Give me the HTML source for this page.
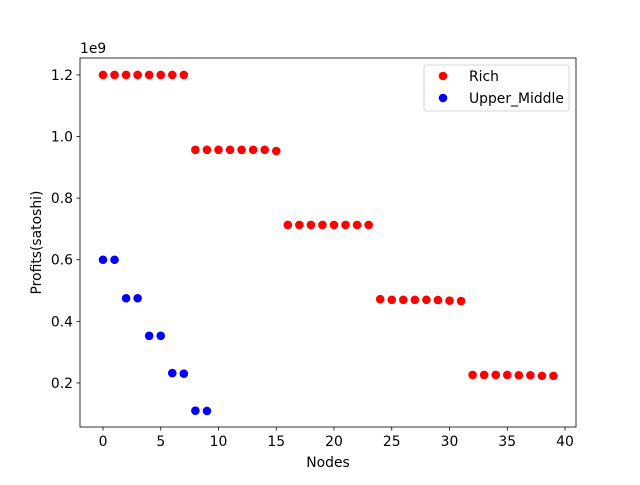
<!DOCTYPE html>
<html><head><meta charset="utf-8"><style>
body{margin:0;background:#fff;font-family:"Liberation Sans","DejaVu Sans",sans-serif;}
svg text{font-family:"DejaVu Sans","Liberation Sans",sans-serif;font-size:13.9px;fill:#000;}
</style></head><body>
<svg id="chart" width="640" height="480"></svg>
<script>
const richX = [0,1,2,3,4,5,6,7,8,9,10,11,12,13,14,15,16,17,18,19,20,21,22,23,24,25,26,27,28,29,30,31,32,33,34,35,36,37,38,39];
const richY = [1.2,1.2,1.2,1.2,1.2,1.2,1.2,1.2,0.957,0.957,0.957,0.957,0.957,0.957,0.957,0.953,0.713,0.713,0.713,0.713,0.713,0.713,0.713,0.713,0.472,0.47,0.47,0.47,0.47,0.469,0.467,0.466,0.226,0.226,0.226,0.226,0.225,0.225,0.223,0.223];
const umX = [0,1,2,3,4,5,6,7,8,9];
const umY = [0.6,0.6,0.475,0.475,0.353,0.353,0.232,0.23,0.11,0.109];
const xTicks = [0,5,10,15,20,25,30,35,40];
const yTicks = [0.2,0.4,0.6,0.8,1.0,1.2];
const yTickLabels = ["0.2","0.4","0.6","0.8","1.0","1.2"];

const L=80,R=576,T=58,B=427;
const xMin=-1.99,xMax=40.95,yMin=0.057,yMax=1.255;
const sx=v=>L+(v-xMin)/(xMax-xMin)*(R-L);
const sy=v=>B-(v-yMin)/(yMax-yMin)*(B-T);
const svg=document.getElementById('chart');
const NS='http://www.w3.org/2000/svg';
function mk(tag,attrs,parent){const e=document.createElementNS(NS,tag);for(const k in attrs)e.setAttribute(k,attrs[k]);(parent||svg).appendChild(e);return e;}

const frame=mk('rect',{x:L,y:T,width:R-L,height:B-T,fill:'none',stroke:'#000','stroke-width':0.8});



xTicks.forEach(t=>{
  const x=sx(t);
  const l=mk('line',{x1:x,x2:x,y1:B,y2:B+3.5,stroke:'#000','stroke-width':0.8});
  
  
  const tx=mk('text',{x:x,y:B+19,'text-anchor':'middle'});tx.textContent=t;
  
  
});
yTicks.forEach((t,i)=>{
  const y=sy(t);
  const l=mk('line',{x1:L-3.5,x2:L,y1:y,y2:y,stroke:'#000','stroke-width':0.8});
  
  
  const tx=mk('text',{x:L-7,y:y+5,'text-anchor':'end'});tx.textContent=yTickLabels[i];
  
  
});
const ex=mk('text',{x:L,y:T-5});ex.textContent='1e9';


const xt=mk('text',{x:(L+R)/2,y:467,'text-anchor':'middle'});xt.textContent='Nodes';


const yt=mk('text',{x:0,y:0,'text-anchor':'middle',transform:`translate(41,${(T+B)/2}) rotate(-90)`});yt.textContent='Profits(satoshi)';



richX.forEach((v,i)=>{
  const c=mk('circle',{cx:sx(v),cy:sy(richY[i]),r:4.3,fill:'red'});
  
  
});
umX.forEach((v,i)=>{
  const c=mk('circle',{cx:sx(v),cy:sy(umY[i]),r:4.3,fill:'blue'});
  
  
});

const lg=mk('g',{});


mk('rect',{x:424,y:65,width:145,height:46,rx:2,fill:'#fff',stroke:'#ccc','stroke-width':0.8},lg);
const c1=mk('circle',{cx:443,cy:76,r:4.3,fill:'red'},lg);


const t1=mk('text',{x:469,y:81},lg);t1.textContent='Rich';


const c2=mk('circle',{cx:443,cy:98,r:4.3,fill:'blue'},lg);


const t2=mk('text',{x:469,y:103},lg);t2.textContent='Upper_Middle';


</script>
</body></html>
